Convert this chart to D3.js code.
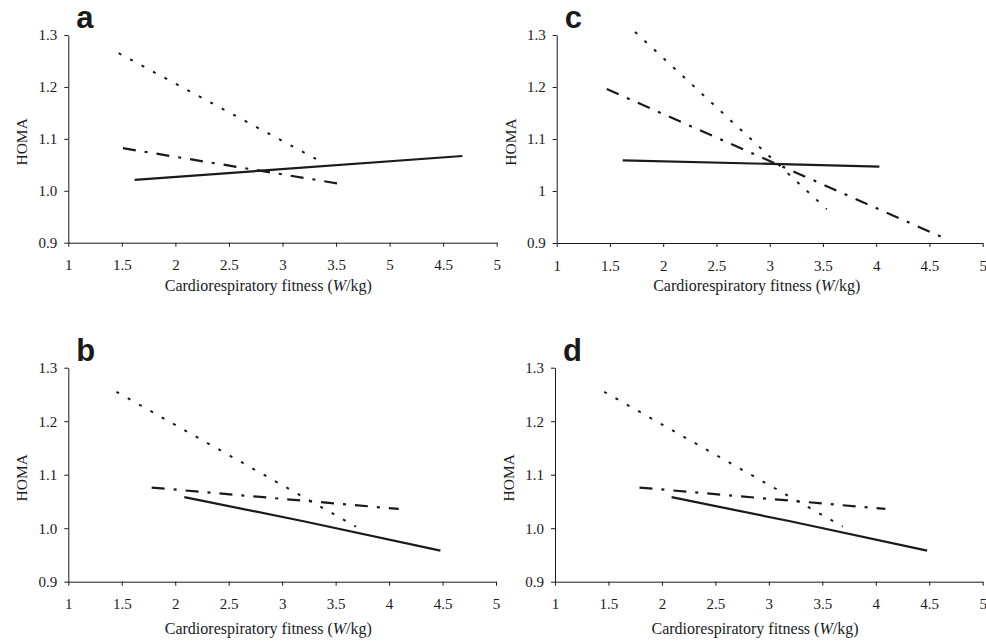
<!DOCTYPE html>
<html>
<head>
<meta charset="utf-8">
<script src="https://cdn.jsdelivr.net/npm/d3@7"></script>
<style>
  body { margin: 0; background: #fff; }
  svg { display: block; }
  svg text { font-family: "Liberation Serif", "DejaVu Serif", serif; }
  svg text.letter { font-family: "Liberation Sans", "DejaVu Sans", sans-serif; font-weight: bold; }
</style>
</head>
<body>
<svg></svg>
<script>
//svg size
const width = 986;
const height = 642;

//tick values and labels
const xTicks = [1, 1.5, 2, 2.5, 3, 3.5, 4, 4.5, 5];
const xLabelsA = ["1", "1.5", "2", "2.5", "3", "3.5", "5", "4.5", "5"]; // panel a has a 5 where 4 should be
const xLabels = ["1", "1.5", "2", "2.5", "3", "3.5", "4", "4.5", "5"];
const yTicks = [0.9, 1.0, 1.1, 1.2, 1.3];
const yLabels = ["0.9", "1.0", "1.1", "1.2", "1.3"];
const yLabelsC = ["0.9", "1", "1.1", "1.2", "1.3"];

//line values [fitness, HOMA]
const solidA = [[1.62, 1.021], [4.68, 1.067]];
const dottedA = [[1.47, 1.265], [3.37, 1.055]];
const dashDotA = [[1.51, 1.082], [3.52, 1.014]];

const solidB = [[2.085, 1.058], [3.2, 1.013], [4.48, 0.958]];
const dottedB = [[1.45, 1.255], [3.69, 1.003]];
const dashDotB = [[1.78, 1.076], [4.09, 1.036]];

const solidC = [[1.62, 1.059], [4.03, 1.047]];
const dottedC = [[1.735, 1.306], [3.535, 0.965]];
const dashDotC = [[1.47, 1.196], [4.655, 0.908]];

const solidD = [[2.09, 1.058], [3.2, 1.013], [4.48, 0.958]];
const dottedD = [[1.46, 1.255], [3.69, 1.003]];
const dashDotD = [[1.79, 1.076], [4.09, 1.036]];

//selecting svg
var svg = d3.select('svg')
    .attr('width', width)
    .attr('height', height);

var ink = '#1a1a1a';

//panel layout
var panels = [
  {letter: 'a', x0: 68.3, x1: 496.7, y0: 242.7, y1: 35, xl: xLabelsA, yl: yLabels, solid: solidA, dotted: dottedA, dashDot: dashDotA, titleDy: 48},
  {letter: 'c', x0: 556.7, x1: 982.7, y0: 243, y1: 35, xl: xLabels, yl: yLabelsC, solid: solidC, dotted: dottedC, dashDot: dashDotC, titleDy: 48},
  {letter: 'b', x0: 68.3, x1: 496, y0: 581.7, y1: 367.7, xl: xLabels, yl: yLabels, solid: solidB, dotted: dottedB, dashDot: dashDotB, titleDy: 52},
  {letter: 'd', x0: 555, x1: 982.7, y0: 581.7, y1: 367.7, xl: xLabels, yl: yLabels, solid: solidD, dotted: dottedD, dashDot: dashDotD, titleDy: 52}
];

panels.forEach(function(p) {
  var g = svg.append('g').attr('class', 'panel');

  var x = d3.scaleLinear().domain([1, 5]).range([p.x0, p.x1]);
  var y = d3.scaleLinear().domain([0.9, 1.3]).range([p.y0, p.y1]);

  //x axis
  var xAxis = d3.axisBottom(x)
      .tickValues(xTicks)
      .tickFormat(function(d, i) { return p.xl[i]; })
      .tickSize(4)
      .tickSizeOuter(0)
      .tickPadding(13);
  var gx = g.append('g')
      .attr('transform', 'translate(0,' + p.y0 + ')')
      .call(xAxis);

  //y axis
  var yAxis = d3.axisLeft(y)
      .tickValues(yTicks)
      .tickFormat(function(d, i) { return p.yl[i]; })
      .tickSize(4)
      .tickSizeOuter(0)
      .tickPadding(7);
  var gy = g.append('g')
      .attr('transform', 'translate(' + p.x0 + ',0)')
      .call(yAxis);

  [gx, gy].forEach(function(a) {
    a.attr('font-family', null);
    a.select('.domain').attr('stroke', ink).attr('stroke-width', 1);
    a.selectAll('line').attr('stroke', ink).attr('stroke-width', 1);
    a.selectAll('text')
     .attr('font-size', 15)
     .attr('fill', ink);
  });

  //axis titles
  g.append('text')
   .attr('transform', 'translate(' + (p.x0 - 41) + ',' + ((p.y0 + p.y1) / 2 + 3) + ') rotate(-90)')
   .attr('text-anchor', 'middle')
   .attr('font-size', 15.5)
   .attr('fill', ink)
   .text('HOMA');

  var title = g.append('text')
   .attr('x', p.x0 + 200)
   .attr('y', p.y0 + p.titleDy)
   .attr('text-anchor', 'middle')
   .attr('font-size', 16)
   .attr('fill', ink);
  title.append('tspan').text('Cardiorespiratory fitness (');
  title.append('tspan').attr('font-style', 'italic').text('W');
  title.append('tspan').text('/kg)');

  //panel letter
  g.append('text')
   .attr('class', 'letter')
   .attr('x', p.x0 + 8)
   .attr('y', p.y1 - 7)
   .attr('font-size', 31)
   .attr('fill', ink)
   .text(p.letter);

  //lines
  var line = d3.line()
      .x(function(d) { return x(d[0]); })
      .y(function(d) { return y(d[1]); });

  g.append('path')
   .attr('d', line(p.solid))
   .attr('fill', 'none')
   .attr('stroke', ink)
   .attr('stroke-width', 2.2);

  g.append('path')
   .attr('d', line(p.dotted))
   .attr('fill', 'none')
   .attr('stroke', ink)
   .attr('stroke-width', 2)
   .attr('stroke-dasharray', '3,10');

  g.append('path')
   .attr('d', line(p.dashDot))
   .attr('fill', 'none')
   .attr('stroke', ink)
   .attr('stroke-width', 2.2)
   .attr('stroke-dasharray', '13,9,3,9');
});
</script>
</body>
</html>
